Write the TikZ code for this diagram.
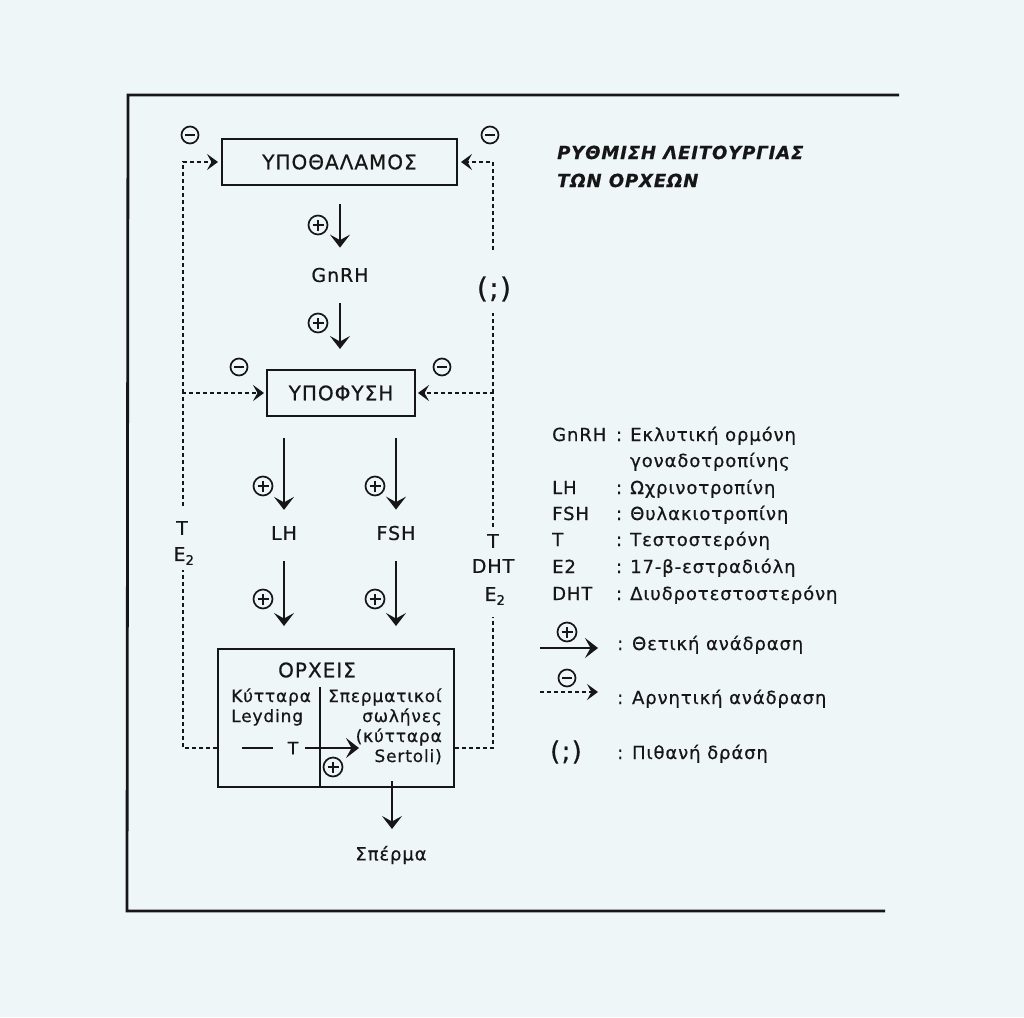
\documentclass[tikz,border=0pt]{standalone}
\usepackage{fontspec}
\setmainfont[LetterSpace=5,FakeBold=0.6]{DejaVu Sans}
\usetikzlibrary{arrows.meta,calc}
\definecolor{paper}{RGB}{239,246,248}
\definecolor{ink}{RGB}{22,22,22}
\newcommand\fsA{\fontsize{20}{24}\selectfont}
\newcommand\fsB{\fontsize{19}{22}\selectfont}
\newcommand\fsC{\fontsize{18}{20}\selectfont}
\newcommand\fsD{\fontsize{17}{20}\selectfont}
\newcommand\fsT{\fontsize{18}{22}\selectfont\bfseries\itshape}
\begin{document}
\begin{tikzpicture}[x=1pt,y=-1pt,
  every node/.style={text=ink, inner sep=0pt},
  box/.style={draw=ink, line width=2pt, inner sep=0pt, font=\fsA},
  lab/.style={font=\fsB},
  small/.style={font=\fsC},
  tiny/.style={font=\fsD},
  arr/.style={draw=ink, line width=1.9pt, -{Stealth[length=13pt,width=20pt,inset=5.5pt]}},
  sline/.style={draw=ink, line width=1.9pt},
  dsh/.style={draw=ink, line width=2.6pt, dash pattern=on 4pt off 3pt},
  darr/.style={dsh, -{Stealth[length=11pt,width=16pt,inset=4.5pt]}},
  pc/.style={circle, draw=ink, line width=1.7pt, minimum size=19pt, inner sep=0pt,
    path picture={\draw[line width=1.7pt] ([xshift=-5.5pt]path picture bounding box.center) -- ([xshift=5.5pt]path picture bounding box.center)
      ([yshift=-5.5pt]path picture bounding box.center) -- ([yshift=5.5pt]path picture bounding box.center);}},
  mc/.style={circle, draw=ink, line width=1.7pt, minimum size=17pt, inner sep=0pt,
    path picture={\draw[line width=1.7pt] ([xshift=-5pt]path picture bounding box.center) -- ([xshift=5pt]path picture bounding box.center);}}
]
\fill[paper] (0,0) rectangle (1024,1017);
\useasboundingbox (0,0) rectangle (1024,1017);

% frame
\draw[ink, line width=2.8pt] (899,95) -- (128,95) -- (127,911) -- (885,911);

% main boxes
\node[box, minimum width=235pt, minimum height=46pt] (hyp) at (339.5,162) {ΥΠΟΘΑΛΑΜΟΣ};
\node[box, minimum width=148pt, minimum height=46pt] (pit) at (341,393) {ΥΠΟΦΥΣΗ};
\node[box, minimum width=236pt, minimum height=138pt] (testes) at (336,718) {};

\node[lab] (gnrh) at (340,275) {GnRH};
\node[lab] (lh) at (284,533) {LH};
\node[lab] (fsh) at (396,533) {FSH};

% positive arrows
\draw[arr] ($(gnrh.north |- hyp.south)+(0,18)$) -- ($(gnrh.north)+(0,-20)$);
\draw[arr] ($(gnrh.south)+(0,21)$) -- ($(gnrh.south |- pit.north)+(0,-20)$);
\draw[arr] ($(lh.north |- pit.south)+(0,21)$) -- ($(lh.north)+(0,-16)$);
\draw[arr] ($(fsh.north |- pit.south)+(0,21)$) -- ($(fsh.north)+(0,-16)$);
\draw[arr] ($(lh.south)+(0,21)$) -- ($(lh.south |- testes.north)+(0,-22)$);
\draw[arr] ($(fsh.south)+(0,21)$) -- ($(fsh.south |- testes.north)+(0,-22)$);

\node[pc] (p1) at (318,225) {};
\node[pc] (p2) at (318,323) {};
\node[pc] (p3) at (263,486) {};
\node[pc] (p4) at (375,486) {};
\node[pc] (p5) at (263,599) {};
\node[pc] (p6) at (375,599) {};

% negative signs
\node[mc] (m1) at (190,135) {};
\node[mc] (m2) at (490,135) {};
\node[mc] (m3) at (239,367) {};
\node[mc] (m4) at (442,367) {};

% testes content
\node[font=\fsA] (orx) at (317,670) {ΟΡΧΕΙΣ};
\draw[ink, line width=1.3pt] (320,687) -- (320,787);
\node[tiny, anchor=base west] (leyd1) at (231,702) {Κύτταρα};
\node[tiny, anchor=base west] (leyd2) at (231,722) {Leyding};
\node[tiny, anchor=base east] (sert1) at (442,702) {Σπερματικοί};
\node[tiny, anchor=base east] (sert2) at (442,722) {σωλήνες};
\node[tiny, anchor=base east] (sert3) at (442,742) {(κύτταρα};
\node[tiny, anchor=base east] (sert4) at (442,762) {Sertoli)};
\node[font=\fontsize{17}{20}\selectfont] (tin) at (293,748) {T};
\coordinate (tstart) at (242,748);
\coordinate (tend) at (359,748);
\draw[sline] (tstart) -- ($(tin.west)+(-15,0)$);
\draw[arr] ($(tin.east)+(7,0)$) -- (tend);
\node[pc] (p7) at (333,767) {};

% sperm
\node[small] (sperm) at (391,855) {Σπέρμα};
\coordinate (sst) at (392,781);
\draw[arr] (sst) -- (sst |- 0,829);

% left feedback
\node[lab] (tL) at (182,528) {T};
\node[lab] (e2L) at (184,556) {E\textsubscript{2}};
\draw[dsh] (testes.west |- 0,748) -- (183,748) -- (183,570);
\draw[darr] (183,506) -- (183,393) -- ($(pit.west)+(-2,0)$);
\draw[darr] (183,393) -- (183,162) -- ($(hyp.west)+(-3,0)$);

% right feedback
\node[lab] (tR) at (493,541) {T};
\node[lab] (dhtR) at (493,566) {DHT};
\node[lab] (e2R) at (495,596) {E\textsubscript{2}};
\node[font=\fontsize{28}{30}\selectfont] (qR) at (494,289) {(;)};
\draw[dsh] (testes.east |- 0,748) -- (493,748) -- (493,617);
\draw[darr] (493,527) -- (493,393) -- ($(pit.east)+(2,0)$);
\draw[dsh] (493,393) -- (493,313);
\draw[darr] (493,250) -- (493,162) -- ($(hyp.east)+(3,0)$);

% title
\node[font=\fsT, anchor=base west] (title1) at (557,159) {ΡΥΘΜΙΣΗ ΛΕΙΤΟΥΡΓΙΑΣ};
\node[font=\fsT, anchor=base west] (title2) at (557,187) {ΤΩΝ ΟΡΧΕΩΝ};

% legend
\foreach \k/\a/\b/\yy in {g1/GnRH/Εκλυτική ορμόνη/441, l1/LH/Ωχρινοτροπίνη/494, f1/FSH/Θυλακιοτροπίνη/520, t1/T/Τεστοστερόνη/546, e1/E2/17-β-εστραδιόλη/573, d1/DHT/Διυδροτεστοστερόνη/600}{
  \node[small, anchor=base west] (\k a) at (552,\yy) {\a};
  \node[small, anchor=base] (\k c) at (619,\yy) {:};
  \node[small, anchor=base west] (\k b) at (630,\yy) {\b};
}
\node[small, anchor=base west] (g2b) at (630,467) {γοναδοτροπίνης};

\coordinate (la1) at (540,648);
\coordinate (la2) at (598,648);
\draw[arr] (la1) -- (la2);
\node[pc] (lp) at (567,632) {};
\coordinate (lb1) at (540,692);
\coordinate (lb2) at (598,692);
\draw[darr] (lb1) -- (lb2);
\node[mc] (lm) at (567,678) {};
\node[font=\fontsize{26}{30}\selectfont] (lq) at (566,752) {(;)};

\node[small, anchor=base west] (lt1) at (617,650) {: Θετική ανάδραση};
\node[small, anchor=base west] (lt2) at (617,704) {: Αρνητική ανάδραση};
\node[small, anchor=base west] (lt3) at (617,759) {: Πιθανή δράση};
\end{tikzpicture}
\end{document}
